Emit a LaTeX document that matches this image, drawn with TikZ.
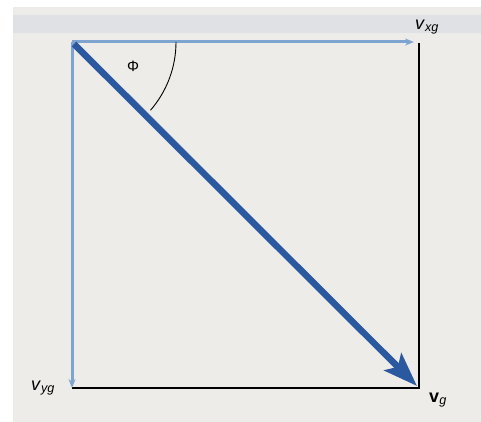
\documentclass[tikz,border=0pt]{standalone}
\usepackage{fontspec}
\setmainfont{Liberation Sans}
\usetikzlibrary{arrows.meta}
\definecolor{pagebg}{HTML}{EEECE9}
\definecolor{bandbg}{HTML}{DFE1E4}
\definecolor{lightblue}{HTML}{7EA5CF}
\definecolor{darkblue}{HTML}{2B59A0}
\tikzset{
  comp/.style={draw=lightblue, line width=3pt, -{Stealth[length=9pt,width=7pt]}},
  resultant/.style={draw=darkblue, line width=6.5pt, -{Stealth[length=34pt,width=24pt,inset=7pt]}},
  edge/.style={draw=black, line width=1.8pt},
  lbl/.style={font=\fontsize{18}{18}\selectfont, inner sep=0pt}
}
\begin{document}
\begin{tikzpicture}[x=1pt,y=-1pt]
\useasboundingbox (0,0) rectangle (481,422);
\fill[white] (0,0) rectangle (481,422);
\fill[pagebg] (13,7) rectangle (481,422);
\fill[bandbg] (13,15) rectangle (481,33);
\coordinate (O) at (72,42);
\coordinate (A) at (414,42);
\coordinate (R) at (419,43);
\coordinate (B) at (419,388);
\coordinate (C) at (72,388);
\coordinate (D) at (72,388);
\coordinate (G) at (417,386);
% black sides
\draw[edge] (R) -- (B) -- (C);
% components
\draw[comp] (O) -- (A);
\draw[comp] (O) -- (D);
% resultant
\draw[resultant] (74,44) -- (G);
% angle arc
\draw[black, line width=0.9pt] ([shift={(0:104)}]O) arc[start angle=0, end angle=41, radius=104];
\node[lbl, font=\fontsize{15}{15}\selectfont] (phi) at (133,66) {Φ};
\node[lbl] (vxg) at (427,27) {\textit{v}\textsubscript{\textit{xg}}};
\node[lbl] (vyg) at (43,388) {\textit{v}\textsubscript{\textit{yg}}};
\node[lbl] (vg) at (438,400) {\textbf{v}\textsubscript{\textit{g}}};
\end{tikzpicture}
\end{document}
